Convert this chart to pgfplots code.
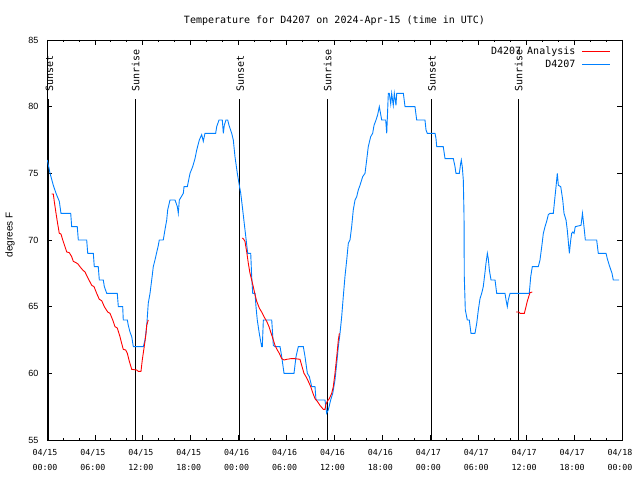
\documentclass[border=0pt]{standalone}
\usepackage{fontspec}
\usepackage{pgfplots}
\pgfplotsset{compat=1.18}
\newfontfamily\mono{DejaVu Sans Mono}
\newfontfamily\gsans{Liberation Sans}
\definecolor{gblue}{RGB}{0,128,255}
\definecolor{gred}{RGB}{255,0,0}
\begin{document}
\begin{tikzpicture}[x=1pt,y=1pt]
\path[use as bounding box] (0,0) rectangle (640,480);
\begin{axis}[
  at={(47pt,40pt)}, anchor=south west,
  scale only axis, width=575pt, height=400pt,
  xmin=0, xmax=72, ymin=55, ymax=85,
  clip mode=individual,
  xtick={0,6,...,72},
  xticklabels={{04/15\\00:00},{04/15\\06:00},{04/15\\12:00},{04/15\\18:00},{04/16\\00:00},{04/16\\06:00},{04/16\\12:00},{04/16\\18:00},{04/17\\00:00},{04/17\\06:00},{04/17\\12:00},{04/17\\18:00},{04/18\\00:00}},
  minor x tick num=2,
  ytick={55,60,...,85},
  tick align=inside,
  major tick length=5pt, minor tick length=2.5pt,
  axis line style={black, line width=0.9pt},
  every tick/.style={black, line width=0.8pt},
  xticklabel style={font=\mono\fontsize{8.3}{15}\selectfont, align=center, xshift=-2pt, yshift=-6pt},
  yticklabel style={font=\gsans\fontsize{9}{10}\selectfont, xshift=-5pt},
  /pgf/number format/assume math mode=true,
  ylabel={degrees F},
  ylabel style={font=\gsans\fontsize{10}{12}\selectfont, at={(axis description cs:-0.0643,0.5125)}, anchor=center},
  title={Temperature for D4207 on 2024-Apr-15 (time in UTC)},
  title style={font=\mono\fontsize{10}{12}\selectfont, at={(axis description cs:0.5,1)}, anchor=center, yshift=13pt},
  legend style={draw=none, fill=none, at={(axis description cs:1,1)}, anchor=north east, xshift=-8pt, yshift=-3pt,
    font=\mono\fontsize{10}{12}\selectfont, row sep=0pt,
    nodes={inner sep=1.5pt, text height=8pt, text depth=2pt},
    /tikz/every odd column/.append style={column sep=5pt}},
  legend plot pos=right, legend cell align=right, reverse legend,
  legend image code/.code={\draw[#1] (0pt,0pt) -- (28pt,0pt);},
]
% sunrise / sunset lines
\addplot[black, line width=0.9pt, forget plot] coordinates {(0.15,55) (0.15,80.57)};
\addplot[black, line width=0.9pt, forget plot] coordinates {(11.06,55) (11.06,80.57)};
\addplot[black, line width=0.9pt, forget plot] coordinates {(24.15,55) (24.15,80.57)};
\addplot[black, line width=0.9pt, forget plot] coordinates {(35.1,55) (35.1,80.57)};
\addplot[black, line width=0.9pt, forget plot] coordinates {(48.17,55) (48.17,80.57)};
\addplot[black, line width=0.9pt, forget plot] coordinates {(59.02,55) (59.02,80.57)};
\node[rotate=90, anchor=west, inner sep=0pt, font=\mono\fontsize{10}{12}\selectfont] at (axis cs:0.3,81.13) {Sunset};
\node[rotate=90, anchor=west, inner sep=0pt, font=\mono\fontsize{10}{12}\selectfont] at (axis cs:11.1,81.13) {Sunrise};
\node[rotate=90, anchor=west, inner sep=0pt, font=\mono\fontsize{10}{12}\selectfont] at (axis cs:24.2,81.13) {Sunset};
\node[rotate=90, anchor=west, inner sep=0pt, font=\mono\fontsize{10}{12}\selectfont] at (axis cs:35.15,81.13) {Sunrise};
\node[rotate=90, anchor=west, inner sep=0pt, font=\mono\fontsize{10}{12}\selectfont] at (axis cs:48.22,81.13) {Sunset};
\node[rotate=90, anchor=west, inner sep=0pt, font=\mono\fontsize{10}{12}\selectfont] at (axis cs:59.07,81.13) {Sunrise};
% observed
\addplot[gblue, line width=0.9pt] coordinates {
(0.04,76.0)(0.38,75.0)(0.79,74.1)(1.13,73.5)(1.54,72.9)(1.75,72.0)(2.97,72.0)(3.09,71.0)(3.79,71.0)(3.92,70.0)
(4.97,70.0)(5.10,69.0)(5.80,69.0)(5.92,68.0)(6.42,68.0)(6.55,67.0)(7.05,67.0)(7.18,66.5)(7.48,66.0)(8.80,66.0)
(8.93,65.0)(9.48,65.0)(9.55,64.0)(10.06,64.0)(10.18,63.6)(10.39,63.1)(10.61,62.75)(10.81,62.0)(12.06,62.0)(12.27,62.5)
(12.48,63.5)(12.68,65.25)(12.90,66.0)(13.11,67.0)(13.31,68.0)(13.52,68.5)(13.94,69.6)(14.06,70.0)(14.56,70.0)(14.78,70.8)
(14.99,71.5)(15.11,72.25)(15.40,73.0)(16.03,73.0)(16.32,72.5)(16.44,72.0)(16.57,73.0)(17.07,73.5)(17.16,74.0)(17.57,74.0)
(17.91,75.0)(18.24,75.5)(18.53,76.1)(18.75,76.75)(19.07,77.5)(19.37,77.9)(19.57,77.4)(19.78,78.0)(21.12,78.0)(21.25,78.5)
(21.54,79.0)(21.95,79.0)(22.08,78.0)(22.20,78.6)(22.41,79.0)(22.63,79.0)(22.79,78.6)(23.13,78.0)(23.33,77.5)(23.54,76.25)
(23.83,75.0)(24.08,74.1)(24.26,73.5)(24.46,72.5)(24.67,71.4)(24.92,70.1)(25.13,69.0)(25.51,69.0)(25.63,67.25)(25.76,66.0)
(26.05,66.0)(26.17,65.0)(26.33,64.0)(26.58,63.0)(26.88,62.0)(26.96,62.0)(27.09,64.0)(28.14,64.0)(28.34,62.1)(28.55,62.0)
(29.18,62.0)(29.39,61.25)(29.68,60.0)(30.93,60.0)(31.18,61.25)(31.47,62.0)(32.10,62.0)(32.31,61.25)(32.60,60.0)(32.85,59.75)
(33.15,59.0)(33.56,59.0)(33.68,58.0)(34.81,58.0)(35.02,57.0)(35.22,57.25)(35.52,58.0)(35.78,58.5)(36.06,59.5)(36.28,60.75)
(36.48,62.0)(36.69,63.0)(36.90,64.25)(37.10,65.75)(37.31,67.25)(37.53,68.5)(37.73,69.75)(37.94,70.0)(38.15,71.0)(38.35,72.25)
(38.57,73.0)(38.78,73.25)(38.98,73.75)(39.19,74.1)(39.53,74.75)(39.82,75.0)(40.03,76.0)(40.23,77.0)(40.53,77.75)(40.78,78.0)
(40.95,78.6)(41.20,79.0)(41.41,79.4)(41.61,80.0)(41.79,79.4)(41.91,79.0)(42.41,79.0)(42.54,78.0)(42.74,81.0)(42.86,81.0)
(43.04,80.2)(43.16,81.0)(43.36,80.1)(43.49,81.0)(43.70,80.1)(43.79,81.0)(44.62,81.0)(44.83,80.0)(46.08,80.0)(46.29,79.0)
(47.33,79.0)(47.46,78.25)(47.62,78.0)(48.59,78.0)(48.71,77.6)(48.80,77.0)(49.62,77.0)(49.84,76.1)(50.88,76.1)(51.09,75.5)
(51.21,75.0)(51.63,75.0)(51.80,75.75)(51.88,76.0)(52.00,75.5)(52.13,74.5)(52.22,71.75)(52.25,67.3)(52.38,64.75)(52.63,64.0)
(52.88,64.0)(53.09,63.0)(53.59,63.0)(53.81,63.75)(54.01,64.75)(54.22,65.6)(54.43,66.0)(54.63,66.5)(54.85,67.6)(54.97,68.25)
(55.14,69.0)(55.26,68.6)(55.39,67.75)(55.60,67.0)(56.10,67.0)(56.31,66.0)(57.35,66.0)(57.48,65.5)(57.64,65.0)(57.76,65.5)
(57.98,66.0)(60.39,66.0)(60.57,67.25)(60.77,68.0)(61.52,68.0)(61.73,68.5)(61.95,69.5)(62.15,70.5)(62.36,71.0)(62.57,71.4)
(62.77,71.9)(62.98,72.0)(63.40,72.0)(63.61,73.25)(63.74,74.0)(63.90,75.0)(64.03,74.1)(64.33,74.0)(64.58,73.0)(64.74,72.0)
(64.99,71.5)(65.15,70.75)(65.41,69.0)(65.58,70.0)(65.70,70.5)(65.83,70.6)(66.00,70.5)(66.15,71.0)(66.87,71.1)(67.05,72.0)
(67.24,71.0)(67.41,70.0)(68.83,70.0)(69.03,69.0)(70.00,69.0)(70.16,68.6)(70.41,68.1)(70.75,67.5)(70.91,67.0)(71.63,67.0)
};
\addlegendentry{D4207}
% analysis
\addplot[gred, line width=0.9pt] coordinates {
(0.59,73.45)(0.79,73.45)(0.91,72.9)(1.13,72.0)(1.34,71.2)(1.54,70.5)(1.75,70.45)(1.97,70.0)(2.25,69.5)(2.47,69.1)
(2.79,69.05)(3.09,68.75)(3.29,68.4)(3.63,68.3)(3.88,68.2)(4.13,68.0)(4.47,67.75)(4.76,67.6)(5.17,67.1)(5.60,66.6)
(5.89,66.5)(6.22,66.0)(6.55,65.55)(6.85,65.45)(7.18,65.0)(7.60,64.6)(7.89,64.5)(8.23,64.0)(8.51,63.5)(8.80,63.4)
(9.14,62.75)(9.35,62.25)(9.55,61.8)(9.85,61.75)(10.06,61.5)(10.31,60.9)(10.61,60.3)(11.23,60.25)(11.43,60.15)(11.77,60.15)
(11.93,61.0)(12.15,61.9)(12.27,62.4)(12.40,63.0)(12.48,63.6)(12.68,64.0)
};
\addlegendentry{D4207 Analysis}
\addplot[gred, line width=0.9pt, forget plot] coordinates {
(24.45,70.15)(24.58,70.1)(24.79,69.9)(25.01,69.1)(25.21,68.25)(25.42,67.5)(25.63,67.0)(25.83,66.5)(26.05,65.9)(26.26,65.4)
(26.58,64.9)(26.88,64.6)(27.17,64.25)(27.51,63.9)(27.80,63.5)(28.01,63.1)(28.21,62.75)(28.55,62.1)(28.84,61.75)(29.09,61.5)
(29.39,61.1)(29.68,61.0)(30.02,61.05)(30.52,61.1)(31.05,61.1)(31.68,61.05)(31.89,60.6)(32.18,60.0)(32.43,59.75)(32.72,59.4)
(33.02,59.0)(33.27,58.55)(33.56,58.1)(33.85,57.9)(34.18,57.6)(34.60,57.3)(34.81,57.3)(34.94,57.7)(35.10,57.9)(35.35,58.1)
(35.65,58.5)(35.85,59.0)(36.06,60.0)(36.28,61.25)(36.48,62.5)(36.61,63.0)
};
\addplot[gred, line width=0.9pt, forget plot] coordinates {
(58.73,64.6)(59.06,64.6)(59.23,64.5)(59.77,64.5)(59.98,65.0)(60.14,65.4)(60.32,65.75)(60.48,66.05)(60.77,66.1)
};
\end{axis}
\end{tikzpicture}
\end{document}
